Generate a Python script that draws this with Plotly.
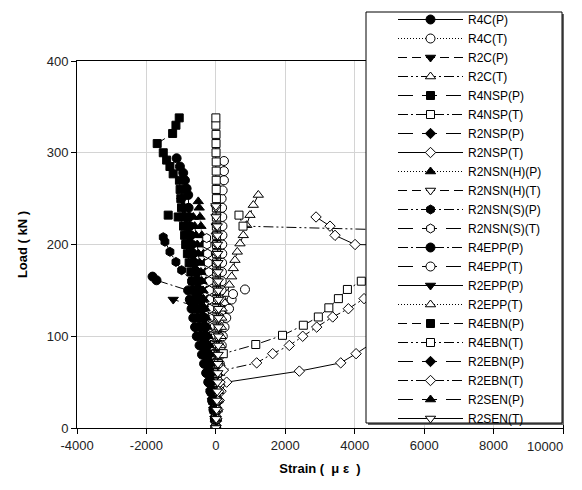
import plotly.graph_objects as go

# ---------------- data (Load kN, Strain micro-strain) ----------------
r4c_p_load = [0,10,20,30,40,50,60,70,80,90,100,110,120,130,140,150,160,170,180,190,200,210,220,230,240,254,261,270,278,285,294]
r4c_p_strain = [0,-15,-35,-60,-85,-115,-145,-180,-215,-250,-290,-330,-370,-410,-450,-490,-530,-570,-610,-650,-690,-720,-750,-770,-785,-796,-842,-890,-940,-1035,-1130]

r4c_t_load = [0,10,20,30,40,50,60,70,80,90,100,110,120,130,140,150,160,170,180,190,200,210,220,230,240,250,259,270,280,291]
r4c_t_strain = [0,5,10,20,30,40,55,70,85,100,115,130,140,150,160,165,170,175,180,185,185,190,190,185,180,167,196,233,233,233]

r2c_p_load = [0,10,20,30,40,50,60,70,80,90,100,110,120,130,134,140]
r2c_p_strain = [0,-25,-60,-100,-140,-185,-230,-280,-330,-380,-430,-480,-530,-580,-698,-1228]

r2c_t_load = [0,10,20,30,40,50,60,70,80,90,100,114,125,136,146,156,165,174,183,192,201,210,221,232,243,254]
r2c_t_strain = [0,15,30,45,60,75,90,100,110,130,150,167,196,262,330,387,455,502,551,617,695,790,888,983,1079,1223]

r4nsp_p_load = [0,10,20,30,40,50,60,70,80,90,100,110,120,130,140,150,160,170,180,190,200,210,220,230,240,250,260,270,277,285,292,300,310,321,330,338]
r4nsp_p_strain = [0,-25,-55,-90,-130,-170,-215,-260,-305,-350,-395,-440,-485,-530,-575,-620,-670,-720,-770,-820,-870,-900,-930,-960,-990,-1010,-1030,-1050,-1230,-1323,-1418,-1515,-1690,-1245,-1150,-1055]

r4nsp_t_load = [0,10,20,30,40,50,60,70,80,90,100,110,120,130,140,150,160,170,180,190,200,210,220,230,240,250,260,270,280,290,300,310,320,330,338]
r4nsp_t_strain = [0,0,5,5,5,10,10,10,10,15,15,15,15,15,15,20,20,20,20,20,20,20,15,15,15,15,10,10,10,10,5,5,5,0,0]

r2nsp_p_load = [0,10,20,30,40,50,60,70,80,90,100,110,120,130,140,150,160,170,180,190,200,210,220,230,240,250]
r2nsp_p_strain = [0,-15,-35,-60,-85,-115,-145,-180,-215,-250,-290,-330,-370,-410,-450,-495,-540,-585,-630,-680,-730,-780,-830,-880,-930,-980]

r2nsp_t_load = [0,10,20,30,40,50,62,71,81,120,160,198,200,210,220,230]
r2nsp_t_strain = [0,30,60,100,150,311,2405,3597,4039,5600,6400,6500,4010,3433,3289,2886]

r2nsnh_p_load = [0,10,20,30,40,50,60,70,80,90,100,110,120,130,140,150,160,170,180,190,200,210,220,230,240,247]
r2nsnh_p_strain = [0,-10,-20,-35,-50,-65,-80,-100,-120,-140,-160,-180,-200,-220,-240,-260,-280,-305,-330,-355,-380,-405,-430,-455,-480,-507]

r2nsnh_t_load = [0,10,20,30,40,50,60,70,80,90,100,110,120,130,140,150,160,170,180,190,200,210,220,230,240,242]
r2nsnh_t_strain = [0,0,5,5,10,10,15,15,20,20,20,25,25,25,25,25,20,20,20,15,15,10,10,5,5,0]

r2nsns_p_load = [0,10,20,30,40,50,60,70,80,90,100,110,120,130,140,150,160,172,181,192,203,208]
r2nsns_p_strain = [0,-25,-55,-90,-130,-170,-215,-260,-305,-350,-400,-450,-500,-550,-600,-650,-700,-986,-1150,-1323,-1467,-1516]

r2nsns_t_load = [0,10,20,30,40,50,60,70,80,90,100,110,120,130,140,150,160,170,180,190,200,207]
r2nsns_t_strain = [0,-10,-20,-30,-45,-60,-75,-90,-105,-120,-140,-160,-170,-175,-180,-185,-195,-205,-220,-240,-255,-265]

r4epp_p_load = [0,10,20,30,40,50,60,70,80,90,100,110,120,130,140,150,161,165]
r4epp_p_strain = [0,-30,-70,-110,-160,-220,-280,-340,-400,-470,-550,-600,-650,-700,-750,-800,-1709,-1824]

r4epp_t_load = [0,10,20,30,40,50,60,70,80,90,100,110,120,130,140,146,151]
r4epp_t_strain = [0,10,20,35,50,70,90,115,140,170,200,250,300,380,455,494,839]

r2epp_p_load = [0,10,20,30,40,50,60,70,80,90,100,110,120,130,140,150,160,170,180,190,200,210,220]
r2epp_p_strain = [0,-20,-40,-60,-85,-110,-135,-165,-195,-225,-255,-290,-325,-360,-400,-440,-480,-520,-560,-605,-650,-700,-750]

r2epp_t_load = [0,10,20,30,40,50,60,70,80,90,100,110,120,130]
r2epp_t_strain = [0,20,40,60,80,100,110,120,130,140,150,160,170,180]

r4ebn_p_load = [0,10,20,30,40,50,60,70,80,90,100,110,120,130,140,150,160,170,180,190,200,210,220,230,232]
r4ebn_p_strain = [0,-20,-45,-75,-105,-140,-175,-210,-250,-290,-330,-370,-410,-455,-500,-545,-590,-640,-690,-740,-790,-840,-890,-1085,-1373]

r4ebn_t_load = [0,10,20,30,40,50,60,70,81,91,101,112,121,131,141,151,160,180,200,214,220,232]
r4ebn_t_strain = [0,5,10,15,20,30,45,70,214,1150,1920,2520,2952,3255,3530,3790,4190,5200,6200,7000,783,666]

r2ebn_p_load = [0,10,20,30,40,50,60,70,80,90,100,110,120,130,140,150,160,170]
r2ebn_p_strain = [0,-15,-35,-55,-80,-105,-130,-160,-190,-220,-255,-290,-325,-360,-400,-440,-480,-520]

r2ebn_t_load = [0,10,20,30,40,50,63,71,81,90,100,110,121,130,141,150,160]
r2ebn_t_strain = [0,15,30,50,80,120,214,1176,1637,2116,2502,2905,3366,3817,4269,5000,5800]

r2sen_p_load = [0,10,20,30,40,50,60,70,80,90,100,110,120,130,140,150,160,170,180,190,200,210,220,230]
r2sen_p_strain = [0,-15,-30,-50,-70,-90,-115,-140,-165,-190,-220,-250,-280,-310,-340,-370,-400,-430,-465,-500,-535,-570,-610,-650]

r2sen_t_load = [0,10,20,30,40,50,60,70,80,90,100,110,120,130,140,150,160,170,180,190,200,210,220]
r2sen_t_strain = [0,10,20,30,40,50,55,60,65,70,75,80,80,80,80,75,70,65,60,55,50,45,40]

x_ticks = [-4000, -2000, 0, 2000, 4000, 6000, 8000, 10000]
x_tick_text = ["-4000", "-2000", "0", "2000", "4000", "6000", "8000", ""]
x_last_label = "10000"
y_ticks = [0, 100, 200, 300, 400]
y_tick_text = ["0", "100", "200", "300", "400"]

# ---------------- styles ----------------
DOT = "1px,2px"
DASH = "9px,5px"
LDASH = "15px,9px"
DASHDOT = "10px,3px,2px,3px"
DASHDOTDOT = "10px,3px,2px,3px,2px,3px"

series = [
    ("R4C(P)", r4c_p_strain, r4c_p_load, "circle", True, "solid"),
    ("R4C(T)", r4c_t_strain, r4c_t_load, "circle", False, DOT),
    ("R2C(P)", r2c_p_strain, r2c_p_load, "triangle-down", True, DASH),
    ("R2C(T)", r2c_t_strain, r2c_t_load, "triangle-up", False, DASHDOTDOT),
    ("R4NSP(P)", r4nsp_p_strain, r4nsp_p_load, "square", True, LDASH),
    ("R4NSP(T)", r4nsp_t_strain, r4nsp_t_load, "square", False, DASHDOT),
    ("R2NSP(P)", r2nsp_p_strain, r2nsp_p_load, "diamond", True, LDASH),
    ("R2NSP(T)", r2nsp_t_strain, r2nsp_t_load, "diamond", False, "solid"),
    ("R2NSN(H)(P)", r2nsnh_p_strain, r2nsnh_p_load, "triangle-up", True, DOT),
    ("R2NSN(H)(T)", r2nsnh_t_strain, r2nsnh_t_load, "triangle-down", False, DASH),
    ("R2NSN(S)(P)", r2nsns_p_strain, r2nsns_p_load, "hexagon", True, DASHDOTDOT),
    ("R2NSN(S)(T)", r2nsns_t_strain, r2nsns_t_load, "hexagon", False, LDASH),
    ("R4EPP(P)", r4epp_p_strain, r4epp_p_load, "circle", True, DASHDOT),
    ("R4EPP(T)", r4epp_t_strain, r4epp_t_load, "circle", False, LDASH),
    ("R2EPP(P)", r2epp_p_strain, r2epp_p_load, "triangle-down", True, "solid"),
    ("R2EPP(T)", r2epp_t_strain, r2epp_t_load, "triangle-up", False, DOT),
    ("R4EBN(P)", r4ebn_p_strain, r4ebn_p_load, "square", True, DASH),
    ("R4EBN(T)", r4ebn_t_strain, r4ebn_t_load, "square", False, DASHDOTDOT),
    ("R2EBN(P)", r2ebn_p_strain, r2ebn_p_load, "diamond", True, LDASH),
    ("R2EBN(T)", r2ebn_t_strain, r2ebn_t_load, "diamond", False, DASHDOT),
    ("R2SEN(P)", r2sen_p_strain, r2sen_p_load, "triangle-up", True, LDASH),
    ("R2SEN(T)", r2sen_t_strain, r2sen_t_load, "triangle-down", False, "solid"),
]

fig = go.Figure()
for name, xs, ys, sym, filled, dash in series:
    size = 8 if sym in ("diamond", "square") else 9
    fig.add_trace(go.Scatter(
        x=xs, y=ys, name=name, mode="lines+markers",
        line=dict(color="black", width=1, dash=dash),
        marker=dict(symbol=sym, size=size,
                    color="black" if filled else "white",
                    line=dict(color="black", width=1)),
    ))

# The page body adds an 8px margin, so the figure is kept smaller than the
# window and reference pixel positions are shifted by -8.
OFF = 8
W, H = 582 - OFF, 468
L, T = 77 - OFF, 61 - OFF
R = 19
B = H - (428 - OFF)
pw, ph = W - L - R, H - T - B

def px2x(px):
    return (px - OFF - L) / pw

def py2y(py):
    return (H - B - (py - OFF)) / ph

box = dict(x0=px2x(366), x1=px2x(562), y0=py2y(423), y1=py2y(12))
shapes = [
    dict(type="rect", xref="paper", yref="paper",
         x0=box["x0"] + 2 / pw, x1=box["x1"] + 2 / pw,
         y0=box["y0"] - 2 / ph, y1=box["y1"] - 2 / ph,
         fillcolor="#666666", line=dict(width=0), layer="above"),
    dict(type="rect", xref="paper", yref="paper", **box,
         fillcolor="white", line=dict(color="black", width=1), layer="above"),
]

tick_font = dict(size=13, color="#222222", family="Liberation Sans, Arial, sans-serif")

# last x tick label kept inside the visible page edge, level with the others
annotations = [
    dict(text=x_last_label, x=x_ticks[-1], xref="x", y=0, yref="paper",
         xanchor="right", yanchor="middle", xshift=2, yshift=-18,
         showarrow=False, font=tick_font),
]

axis_common = dict(
    showline=True, linecolor="black", linewidth=1, mirror=True,
    ticks="outside", ticklen=5, tickcolor="black", tickwidth=1,
    showgrid=True, gridcolor="#d4d4d4", gridwidth=1, zeroline=False,
    tickfont=tick_font,
)

fig.update_layout(
    width=W, height=H,
    margin=dict(l=L, r=R, t=T, b=B, pad=0, autoexpand=False),
    paper_bgcolor="white", plot_bgcolor="white",
    font=dict(family="Liberation Sans, Arial, sans-serif", color="black"),
    showlegend=True,
    legend=dict(x=px2x(393), xanchor="left", y=py2y(5), yanchor="top",
                bgcolor="rgba(0,0,0,0)", borderwidth=0, maxheight=480,
                font=dict(size=12, color="black"), itemwidth=65,
                tracegroupgap=0, traceorder="normal"),
    shapes=shapes,
    annotations=annotations,
    xaxis=dict(range=[-4000, 10000], tickvals=x_ticks, ticktext=x_tick_text,
               title=dict(text="<b>Strain (  μ ε  )</b>", font=dict(size=13), standoff=12),
               **axis_common),
    yaxis=dict(range=[0, 400], tickvals=y_ticks, ticktext=y_tick_text,
               title=dict(text="<b>Load ( kN )</b>", font=dict(size=13), standoff=16),
               **axis_common),
)

fig.write_html("out.html")
